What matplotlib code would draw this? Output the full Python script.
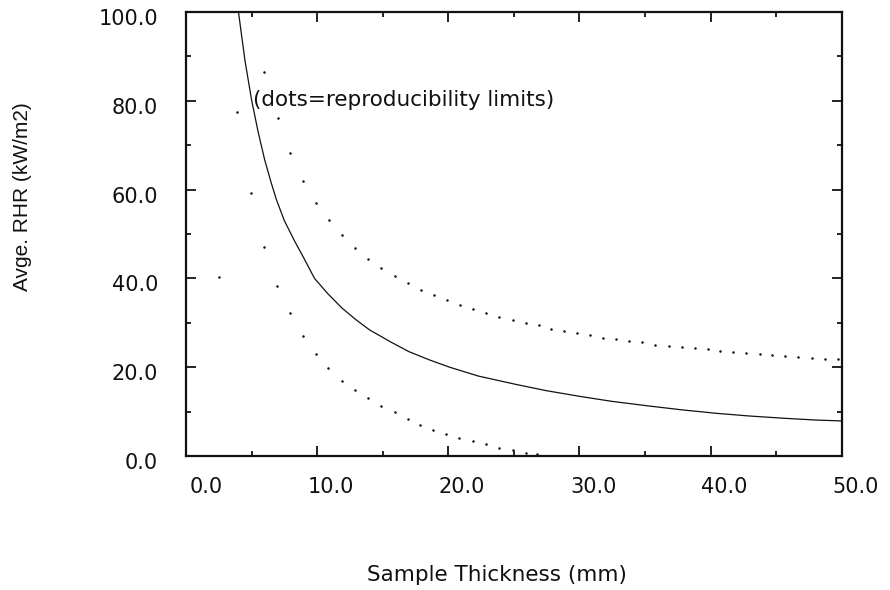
import matplotlib
matplotlib.use("Agg")
import matplotlib.pyplot as plt
from matplotlib.transforms import ScaledTranslation

# ---- data ----
curve_x = [4.0, 4.5, 5.0, 5.5, 6.0, 6.5, 6.9, 7.5, 8.3, 9.0, 9.8, 10.8,
           11.9, 13.0, 14.0, 15.6, 17.0, 18.6, 20.1, 22.3, 25.2, 27.5, 30.3,
           32.5, 35.2, 37.8, 40.5, 43.0, 45.6, 48.0, 50.0]
curve_y = [100.0, 89.0, 80.2, 73.0, 66.7, 61.5, 57.7, 53.0, 48.3, 44.5,
           40.0, 36.6, 33.3, 30.6, 28.4, 25.7, 23.5, 21.6, 20.0, 18.0, 16.1,
           14.7, 13.3, 12.3, 11.3, 10.4, 9.6, 9.0, 8.5, 8.1, 7.9]

upper_x = [5.95, 6.99, 7.96, 8.95, 9.94, 10.9, 11.9, 12.9, 13.9, 14.9, 15.9,
           16.9, 17.9, 18.9, 19.9, 20.9, 21.9, 22.9, 23.9, 24.9, 25.9, 26.9,
           27.85, 28.8, 29.8, 30.8, 31.8, 32.8, 33.8, 34.8, 35.8, 36.8, 37.8,
           38.8, 39.8, 40.7, 41.7, 42.7, 43.8, 44.7, 45.7, 46.7, 47.7, 48.7,
           49.7]
upper_y = [86.5, 76.1, 68.2, 62.0, 57.0, 53.1, 49.7, 46.9, 44.4, 42.3, 40.5,
           39.0, 37.5, 36.2, 35.1, 34.0, 33.0, 32.3, 31.4, 30.6, 30.0, 29.4,
           28.7, 28.2, 27.6, 27.2, 26.6, 26.3, 25.9, 25.6, 25.1, 24.8, 24.5,
           24.3, 24.0, 23.7, 23.5, 23.3, 22.9, 22.7, 22.5, 22.3, 22.1, 21.9,
           21.8]

lower_x = [2.54, 3.91, 4.96, 5.93, 6.92, 7.91, 8.9, 9.92, 10.86, 11.9, 12.9,
           13.9, 14.9, 15.9, 16.9, 17.85, 18.8, 19.8, 20.85, 21.9, 22.9, 23.9,
           24.9, 25.9, 26.8]
lower_y = [40.4, 77.4, 59.3, 47.1, 38.4, 32.2, 27.1, 23.0, 19.8, 17.0, 14.8,
           13.0, 11.3, 9.8, 8.3, 7.0, 5.9, 5.0, 4.1, 3.3, 2.6, 1.8, 1.3, 0.75,
           0.4]

x_ticks = [0, 10, 20, 30, 40, 50]
x_ticklabels = ["0.0", "10.0", "20.0", "30.0", "40.0", "50.0"]
y_ticks = [0, 20, 40, 60, 80, 100]
y_ticklabels = ["0.0", "20.0", "40.0", "60.0", "80.0", "100.0"]
x_minor = [5, 15, 25, 35, 45]
y_minor = [10, 30, 50, 70, 90]

note_text = "(dots=reproducibility limits)"
x_label = "Sample Thickness (mm)"
y_label = "Avge. RHR (kW/m2)"

# ---- figure ----
W, H = 890, 590
fig = plt.figure(figsize=(W / 100, H / 100), dpi=100)
ax = fig.add_axes([186 / W, 1 - 456 / H, (841.7 - 186) / W, (456 - 12) / H])

ax.plot(curve_x, curve_y, color="#111111", lw=0.9, clip_on=True)
ax.plot(upper_x, upper_y, ls="none", marker="o", ms=1.8, color="#111111",
        mec="none", clip_on=True)
ax.plot(lower_x, lower_y, ls="none", marker="o", ms=1.8, color="#111111",
        mec="none", clip_on=True)

ax.set_xlim(0, 50)
ax.set_ylim(0, 100)

for s in ax.spines.values():
    s.set_linewidth(1.6)
    s.set_color("#111111")

ax.set_xticks(x_ticks)
ax.set_xticklabels(x_ticklabels)
ax.set_yticks(y_ticks)
ax.set_yticklabels(y_ticklabels)
ax.set_xticks(x_minor, minor=True)
ax.set_yticks(y_minor, minor=True)

ax.tick_params(which="both", direction="in", top=True, right=True,
               color="#111111", width=1.3)
ax.tick_params(which="major", length=7)
ax.tick_params(which="minor", length=3.5)
ax.tick_params(axis="x", which="major", pad=15, labelsize=15)
ax.tick_params(axis="y", which="major", pad=20, labelsize=15)

off_x = ScaledTranslation(37 / 100, 0, fig.dpi_scale_trans)
for lab in ax.get_xticklabels():
    lab.set_ha("right")
    lab.set_transform(lab.get_transform() + off_x)
    lab.set_color("#111111")
off_y = ScaledTranslation(0, -5 / 100, fig.dpi_scale_trans)
for lab in ax.get_yticklabels():
    lab.set_transform(lab.get_transform() + off_y)
    lab.set_color("#111111")

ax.text(5.1, 80.2, note_text, fontsize=15.5, ha="left", va="center",
        color="#111111")

fig.text(497 / W, 1 - 575 / H, x_label, fontsize=15.5, ha="center",
         va="center", color="#111111")
fig.text(23 / W, 1 - 197 / H, y_label, fontsize=15, rotation=90,
         ha="center", va="center", color="#111111",
         family=["Liberation Sans", "DejaVu Sans"])

fig.savefig("out.png", dpi=100, facecolor="white")
